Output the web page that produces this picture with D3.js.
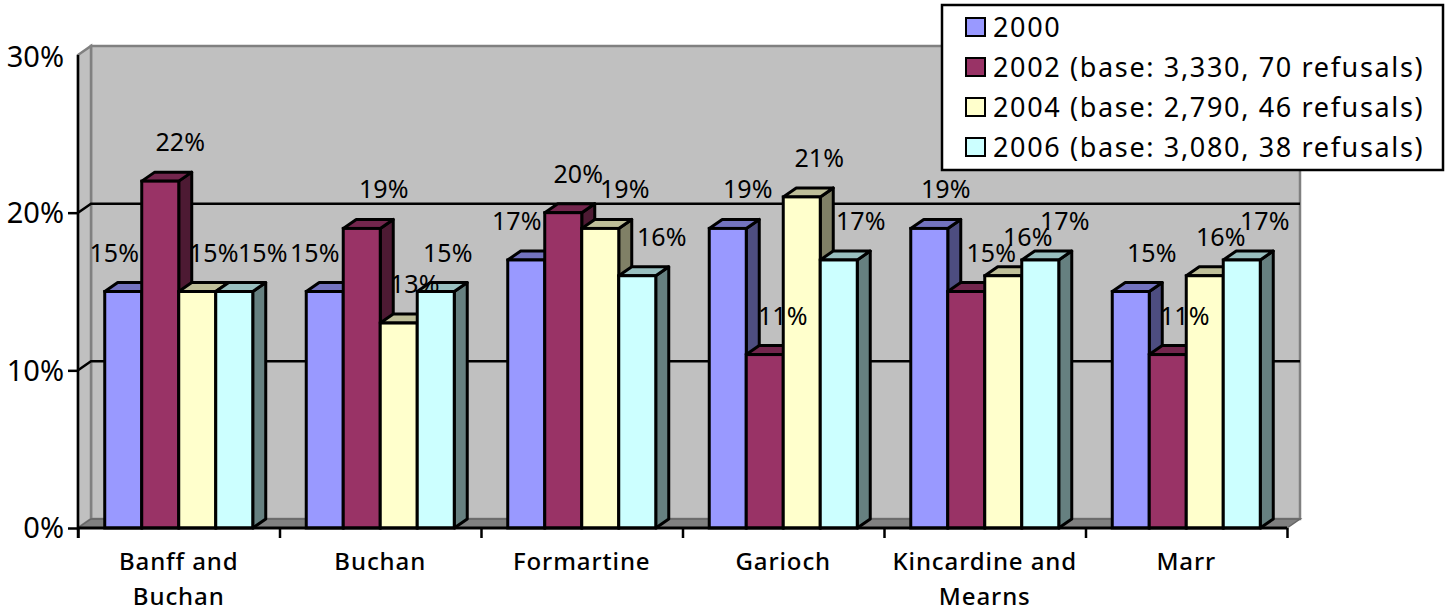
<!DOCTYPE html>
<html lang="en">
<head>
<meta charset="UTF-8">
<title>Chart</title>
<script src="https://d3js.org/d3.v7.min.js"></script>
<style>
    body { margin: 0; background: #ffffff; }
    svg { display: block; }
    text { font-family: "Noto Sans", sans-serif; fill: #000000; }
    .value-label { font-size: 25px; }
    .y-axis text { font-size: 29px; }
    .x-axis text { font-size: 24px; font-weight: 500; letter-spacing: 0.9px; }
    .legend text { font-size: 27px; letter-spacing: 1.65px; }
</style>
</head>
<body>
<svg width="1450" height="609"></svg>
<script>
    var categories = ["Banff and Buchan", "Buchan", "Formartine", "Garioch", "Kincardine and Mearns", "Marr"];
    var seriesNames = ["2000", "2002", "2004", "2006"];
    var legendLabels = ["2000", "2002 (base: 3,330, 70 refusals)", "2004 (base: 2,790, 46 refusals)", "2006 (base: 3,080, 38 refusals)"];
    var values2000 = [15, 15, 17, 19, 19, 15];
    var values2002 = [22, 19, 20, 11, 15, 11];
    var values2004 = [15, 13, 19, 21, 16, 16];
    var values2006 = [15, 15, 16, 17, 17, 17];
    var yTicks = [0, 10, 20, 30];

    var seriesValues = [values2000, values2002, values2004, values2006];
    var colors = ["#9999ff", "#993366", "#ffffcc", "#ccffff"];

    // how far each data label sits from its bar centre, one row per category
    var labelNudge = [
        [-9, 20, 16.5, 28.5],
        [-10, 22, 16, 12],
        [-9.5, 15, 24.5, 24.5],
        [20, 18, 17.5, 22],
        [16.5, 25, 24.5, 24.5],
        [21, 17, 16, 23]
    ];

    var svg = d3.select("svg");
    var plotLeft = 78, plotRight = 1287, plotTop = 55, plotBottom = 528;
    var depthX = 13, depthY = 9;

    var y = d3.scaleLinear().domain([0, 30]).range([plotBottom, plotTop]);
    var x = d3.scaleBand().domain(categories).range([plotLeft, plotRight])
        .paddingInner(0.2655).paddingOuter(0.1327);
    var xBar = d3.scaleBand().domain(seriesNames).range([0, x.bandwidth()]);
    var xEdge = d3.scaleLinear().domain([0, categories.length]).range([plotLeft, plotRight]);

    function pts(list) {
        return list.map(function(p) { return p.join(","); }).join(" ");
    }

    // walls and floor
    var walls = svg.append("g");
    walls.append("polygon")
        .attr("points", pts([[plotLeft + depthX, plotTop - depthY], [plotRight + depthX, plotTop - depthY], [plotRight + depthX, plotBottom - depthY], [plotLeft + depthX, plotBottom - depthY]]))
        .attr("fill", "#c0c0c0").attr("stroke", "#808080").attr("stroke-width", 2.5);
    walls.append("polygon")
        .attr("points", pts([[plotLeft, plotTop], [plotLeft + depthX, plotTop - depthY], [plotLeft + depthX, plotBottom - depthY], [plotLeft, plotBottom]]))
        .attr("fill", "#c0c0c0").attr("stroke", "#808080").attr("stroke-width", 2.5);
    walls.append("polygon")
        .attr("points", pts([[plotLeft, plotBottom], [plotLeft + depthX, plotBottom - depthY], [plotRight + depthX, plotBottom - depthY], [plotRight, plotBottom]]))
        .attr("fill", "#808080").attr("stroke", "#666666").attr("stroke-width", 1.5);

    // gridlines, the slanted bit runs over the left wall
    var grid = svg.append("g").selectAll("polyline")
        .data(yTicks.filter(function(d) { return d > 0 && d < 30; }))
        .enter().append("polyline")
        .attr("fill", "none").attr("stroke", "#000000").attr("stroke-width", 2.5)
        .attr("points", function(d) {
            return pts([[plotLeft, y(d)], [plotLeft + depthX, y(d) - depthY], [plotRight + depthX, y(d) - depthY]]);
        });

    // bars
    var groups = svg.append("g").selectAll("g")
        .data(categories)
        .enter().append("g")
        .attr("transform", function(d) { return "translate(" + x(d) + ",0)"; });

    seriesNames.forEach(function(name, s) {
        var bar = groups.append("g").datum(function(d, i) {
            return { value: seriesValues[s][i], x0: xBar(name), x1: xBar(name) + xBar.bandwidth() };
        });
        var base = d3.color(colors[s]);

        bar.append("polygon")
            .attr("fill", d3.rgb(base.r * 0.5, base.g * 0.5, base.b * 0.5))
            .attr("stroke", "#000000").attr("stroke-width", 3).attr("stroke-linejoin", "round")
            .attr("points", function(d) {
                return pts([[d.x1, y(d.value)], [d.x1 + depthX, y(d.value) - depthY], [d.x1 + depthX, plotBottom - depthY], [d.x1, plotBottom]]);
            });
        bar.append("polygon")
            .attr("fill", d3.rgb(base.r * 0.75, base.g * 0.75, base.b * 0.75))
            .attr("stroke", "#000000").attr("stroke-width", 3).attr("stroke-linejoin", "round")
            .attr("points", function(d) {
                return pts([[d.x0, y(d.value)], [d.x0 + depthX, y(d.value) - depthY], [d.x1 + depthX, y(d.value) - depthY], [d.x1, y(d.value)]]);
            });
        bar.append("rect")
            .attr("fill", colors[s])
            .attr("stroke", "#000000").attr("stroke-width", 3)
            .attr("x", function(d) { return d.x0; })
            .attr("width", xBar.bandwidth())
            .attr("y", function(d) { return y(d.value); })
            .attr("height", function(d) { return plotBottom - y(d.value); });
    });

    // axes
    var yAxis = svg.append("g")
        .attr("class", "y-axis")
        .attr("transform", "translate(" + plotLeft + ",0)")
        .call(d3.axisLeft(y).tickValues(yTicks).tickSize(10).tickPadding(4).tickFormat(function(d) { return d + "%"; }));
    yAxis.selectAll(".tick").filter(function(d) { return d === 30; }).select("line").remove();
    yAxis.selectAll("line").attr("stroke", "#000000").attr("stroke-width", 2.5);
    yAxis.select(".domain").attr("stroke", "#000000").attr("stroke-width", 2.5)
        .attr("d", "M0," + plotTop + "V" + (plotBottom + 10));
    yAxis.selectAll("text").attr("dy", "0.34em").attr("y", function(d) { return d === 30 ? 2 : 0; });

    var edgeAxis = svg.append("g")
        .attr("transform", "translate(0," + plotBottom + ")")
        .call(d3.axisBottom(xEdge).tickValues(d3.range(categories.length + 1)).tickSize(10).tickFormat(""));
    edgeAxis.selectAll("line").attr("stroke", "#000000").attr("stroke-width", 2.5);
    edgeAxis.select(".domain").attr("stroke", "#000000").attr("stroke-width", 3)
        .attr("d", "M" + plotLeft + ",0H" + plotRight);

    var xAxis = svg.append("g")
        .attr("class", "x-axis")
        .attr("transform", "translate(0," + plotBottom + ")")
        .call(d3.axisBottom(x).tickSize(0).tickPadding(0));
    xAxis.select(".domain").remove();
    xAxis.selectAll("text").attr("dy", 0).call(wrap, 198);

    function wrap(text, width) {
        text.each(function() {
            var t = d3.select(this), words = t.text().split(" "), line = [], row = 0;
            t.text(null);
            var span = t.append("tspan").attr("x", 0).attr("y", 42);
            words.forEach(function(w) {
                line.push(w);
                span.text(line.join(" "));
                if (span.node().getComputedTextLength() > width && line.length > 1) {
                    line.pop();
                    span.text(line.join(" "));
                    line = [w];
                    row++;
                    span = t.append("tspan").attr("x", 0).attr("y", 42 + row * 35).text(w);
                }
            });
        });
    }

    // data labels
    var labels = svg.append("g");
    categories.forEach(function(cat, c) {
        seriesNames.forEach(function(name, s) {
            labels.append("text")
                .attr("class", "value-label")
                .attr("text-anchor", "middle")
                .attr("x", x(cat) + xBar(name) + xBar.bandwidth() / 2 + labelNudge[c][s])
                .attr("y", y(seriesValues[s][c]) - 30)
                .text(seriesValues[s][c] + "%");
        });
    });

    // legend
    var legend = svg.append("g").attr("class", "legend");
    legend.append("rect")
        .attr("x", 942).attr("y", 5).attr("width", 501).attr("height", 165)
        .attr("fill", "#ffffff").attr("stroke", "#000000").attr("stroke-width", 2.5);
    var legendY = d3.scalePoint().domain(seriesNames).range([27, 147]);
    var rows = legend.selectAll("g.row").data(seriesNames).enter().append("g")
        .attr("class", "row")
        .attr("transform", function(d) { return "translate(0," + legendY(d) + ")"; });
    rows.append("rect")
        .attr("x", 966).attr("y", -9).attr("width", 19).attr("height", 18)
        .attr("fill", function(d, i) { return colors[i]; })
        .attr("stroke", "#000000").attr("stroke-width", 2);
    rows.append("text")
        .attr("x", 993).attr("dy", "0.36em")
        .text(function(d, i) { return legendLabels[i]; });
</script>
</body>
</html>
